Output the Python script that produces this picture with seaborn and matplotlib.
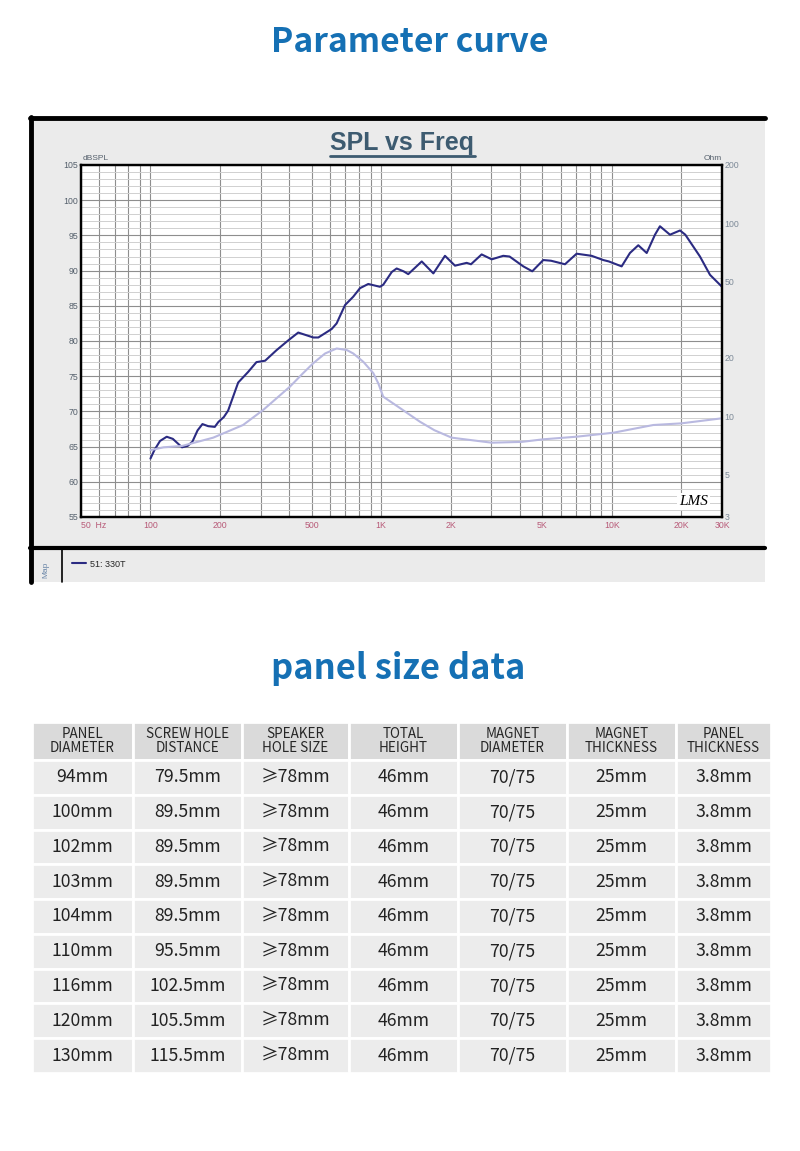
import matplotlib
matplotlib.use("Agg")
import matplotlib.pyplot as plt
from matplotlib.patches import Rectangle
from matplotlib.lines import Line2D
from matplotlib.ticker import FixedLocator, FixedFormatter, NullFormatter, NullLocator
import seaborn as sns

sns.set_style("white")
plt.rcParams['font.family'] = ['Noto Sans CJK SC', 'DejaVu Sans']

# --- SPL curve (dB) ---
spl_freq = [100, 104, 110, 117.6, 125, 137, 145, 152, 160, 168, 178, 190, 197, 208, 217,
            240, 265, 288, 314, 352, 396, 437, 508, 534, 610, 641, 697, 757, 809, 879,
            988, 1021, 1111, 1167, 1250, 1310, 1499, 1683, 1890, 2089, 2347, 2450, 2725,
            3013, 3381, 3600, 4130, 4516, 5041, 5450, 6259, 7031, 8167, 9172, 9700, 11020,
            11970, 13010, 14150, 15370, 16150, 17850, 19730, 20800, 24080, 26610, 30000]
spl_db = [63.3, 64.5, 65.8, 66.4, 66.1, 64.9, 65.1, 65.7, 67.3, 68.2, 67.9, 67.8, 68.5, 69.2, 70.1,
          74.1, 75.6, 77.0, 77.2, 78.7, 80.1, 81.2, 80.5, 80.5, 81.7, 82.5, 85.1, 86.3, 87.5, 88.1,
          87.7, 88.0, 89.8, 90.3, 89.9, 89.5, 91.3, 89.6, 92.1, 90.7, 91.1, 90.9, 92.3,
          91.6, 92.1, 92.0, 90.6, 89.9, 91.5, 91.4, 90.9, 92.4, 92.1, 91.5, 91.3, 90.6,
          92.5, 93.6, 92.5, 95.1, 96.3, 95.1, 95.7, 95.1, 92.0, 89.4, 87.7]

# --- impedance curve (Ohm) ---
imp_freq = [100, 114, 137, 187, 252, 308, 402, 459, 508, 571, 641, 709, 757, 837, 924, 971,
            1021, 1207, 1472, 1700, 2021, 3013, 4063, 5041, 7031, 10140, 15110, 20000, 30000]
imp_ohm = [6.66, 6.89, 7.0, 7.73, 8.99, 10.76, 14.2, 16.7, 18.8, 21.1, 22.4, 22.0, 21.1, 19.1,
           16.7, 14.8, 12.6, 11.0, 9.35, 8.45, 7.73, 7.28, 7.35, 7.58, 7.82, 8.2, 8.99, 9.17, 9.74]

x_ticks = [50, 100, 200, 500, 1000, 2000, 5000, 10000, 20000, 30000]
x_labels = ["50  Hz", "100", "200", "500", "1K", "2K", "5K", "10K", "20K", "30K"]
x_grid = [60, 70, 80, 90, 300, 400, 600, 700, 800, 900, 3000, 4000, 6000, 7000, 8000, 9000]
db_ticks = [55, 60, 65, 70, 75, 80, 85, 90, 95, 100, 105]
ohm_ticks = [3, 5, 10, 20, 50, 100, 200]

# --- table data ---
headers = ["PANEL\nDIAMETER", "SCREW HOLE\nDISTANCE", "SPEAKER\nHOLE SIZE", "TOTAL\nHEIGHT",
           "MAGNET\nDIAMETER", "MAGNET\nTHICKNESS", "PANEL\nTHICKNESS"]
panel_diameter = ["94mm", "100mm", "102mm", "103mm", "104mm", "110mm", "116mm", "120mm", "130mm"]
screw_hole = ["79.5mm", "89.5mm", "89.5mm", "89.5mm", "89.5mm", "95.5mm", "102.5mm", "105.5mm", "115.5mm"]
speaker_hole = ["≥78mm"] * 9
total_height = ["46mm"] * 9
magnet_diameter = ["70/75"] * 9
magnet_thickness = ["25mm"] * 9
panel_thickness = ["3.8mm"] * 9

W, H = 800, 1151


def fx(px):
    return px / W


def fy(py):
    return 1 - py / H


fig = plt.figure(figsize=(8, 11.51), dpi=100)
fig.patch.set_facecolor("white")

blue = "#1570b4"
fig.text(fx(410), fy(42), "Parameter curve", ha="center", va="center", fontsize=24.2,
         fontweight="bold", color=blue)
fig.text(fx(398), fy(668), "panel size data", ha="center", va="center", fontsize=24.8,
         fontweight="bold", color=blue)

# grey panel behind the measurement chart
fig.patches.append(Rectangle((fx(30), fy(582)), fx(735), 465 / H, transform=fig.transFigure,
                             facecolor="#ebebeb", edgecolor="none", zorder=-2))
for xs, ys, lw in [([30, 765], [118, 118], 3.5), ([31, 31], [117, 582], 3.5),
                   ([30, 765], [548, 548], 3.0), ([62, 62], [548, 582], 1.2)]:
    fig.lines.append(Line2D([fx(v) for v in xs], [fy(v) for v in ys], transform=fig.transFigure,
                            color="black", lw=lw, zorder=-1))

fig.text(fx(402), fy(143), "SPL vs Freq", ha="center", va="center", fontsize=18,
         fontweight="bold", color="#3d5b70", family="Liberation Sans")
fig.lines.append(Line2D([fx(330), fx(475)], [fy(156), fy(156)], transform=fig.transFigure,
                        color="#3d5b70", lw=2))
fig.text(fx(46), fy(570), "Map", rotation=90, ha="center", va="center", fontsize=6,
         color="#6a86a8", family="Liberation Sans")

# --- SPL / impedance chart ---
ax = fig.add_axes([fx(81), fy(517), 641 / W, 352 / H])
ax.set_facecolor("white")
ax.set_xscale("log")
ax.set_xlim(50, 30000)
ax.set_ylim(55, 105)
sns.lineplot(x=spl_freq, y=spl_db, ax=ax, color="#2b2b82", lw=1.5, legend=False)

ax.xaxis.set_major_locator(FixedLocator(x_ticks))
ax.xaxis.set_major_formatter(FixedFormatter(x_labels))
ax.xaxis.set_minor_locator(FixedLocator(x_grid))
ax.xaxis.set_minor_formatter(NullFormatter())
ax.yaxis.set_major_locator(FixedLocator(db_ticks))
ax.yaxis.set_minor_locator(FixedLocator(list(range(55, 106))))
ax.grid(which="both", axis="x", color="#8e8e8e", lw=0.8)
ax.grid(which="major", axis="y", color="#8e8e8e", lw=0.8)
ax.grid(which="minor", axis="y", color="#d0d0d0", lw=0.7)
ax.tick_params(axis="both", which="both", length=0)
ax.tick_params(axis="x", labelsize=6.3, labelcolor="#b85a78", pad=3)
ax.tick_params(axis="y", labelsize=6.3, labelcolor="#55606c", pad=2)
for lab in ax.get_xticklabels() + ax.get_yticklabels():
    lab.set_family("Liberation Sans")
ax.get_xticklabels()[0].set_horizontalalignment("left")
for s in ax.spines.values():
    s.set_color("black")
    s.set_linewidth(1.6)
ax.set_xlabel("")
ax.set_ylabel("")
ax.text(0.002, 1.008, "dBSPL", transform=ax.transAxes, ha="left", va="bottom", fontsize=6,
        color="#55606c", family="Liberation Sans")
ax.text(1.0, 1.008, "Ohm", transform=ax.transAxes, ha="right", va="bottom", fontsize=6,
        color="#55606c", family="Liberation Sans")

ax2 = ax.twinx()
ax2.set_yscale("log")
ax2.set_ylim(3, 200)
sns.lineplot(x=imp_freq, y=imp_ohm, ax=ax2, color="#b9b9e0", lw=1.5, legend=False)
ax2.yaxis.set_major_locator(FixedLocator(ohm_ticks))
ax2.yaxis.set_major_formatter(FixedFormatter([str(t) for t in ohm_ticks]))
ax2.yaxis.set_minor_locator(NullLocator())
ax2.tick_params(axis="y", which="both", length=0, labelsize=6.3, labelcolor="#7d8a98", pad=2)
for lab in ax2.get_yticklabels():
    lab.set_family("Liberation Sans")
ax2.grid(False)
ax2.set_ylabel("")
for s in ax2.spines.values():
    s.set_color("black")
    s.set_linewidth(1.6)

ax2.text(0.955, 0.045, "LMS", transform=ax2.transAxes, ha="center", va="center", fontsize=11,
         style="italic", family="Liberation Serif", color="black",
         bbox=dict(facecolor="white", edgecolor="none", pad=1.5))

ax2.legend([ax.lines[0]], ["51: 330T"], loc="upper left",
           bbox_to_anchor=(fx(67), fy(555)), bbox_transform=fig.transFigure, frameon=False,
           handlelength=1.6, handletextpad=0.4, borderpad=0,
           prop={"family": "Liberation Sans", "size": 6.5})

# --- size table ---
ax_t = fig.add_axes([fx(32), fy(1073), 739 / W, 351 / H])
ax_t.axis("off")
columns = [panel_diameter, screw_hole, speaker_hole, total_height, magnet_diameter,
           magnet_thickness, panel_thickness]
rows = [list(r) for r in zip(*columns)]
col_w = [101, 109, 107, 109, 109, 109, 95]
tbl = ax_t.table(cellText=rows, colLabels=headers, cellLoc="center", bbox=[0, 0, 1, 1],
                 colWidths=[w / sum(col_w) for w in col_w])
tbl.auto_set_font_size(False)
for (r, c), cell in tbl.get_celld().items():
    cell.set_edgecolor("white")
    cell.set_linewidth(2)
    txt = cell.get_text()
    if r == 0:
        cell.set_facecolor("#dadada")
        cell.set_height(38)
        txt.set_fontsize(9.7)
        txt.set_linespacing(0.95)
        txt.set_color("#262626")
    else:
        cell.set_facecolor("#ececec")
        cell.set_height(34.8)
        txt.set_fontsize(12.7)
        txt.set_color("#222222")

fig.savefig("out.png", dpi=100, facecolor="white")
